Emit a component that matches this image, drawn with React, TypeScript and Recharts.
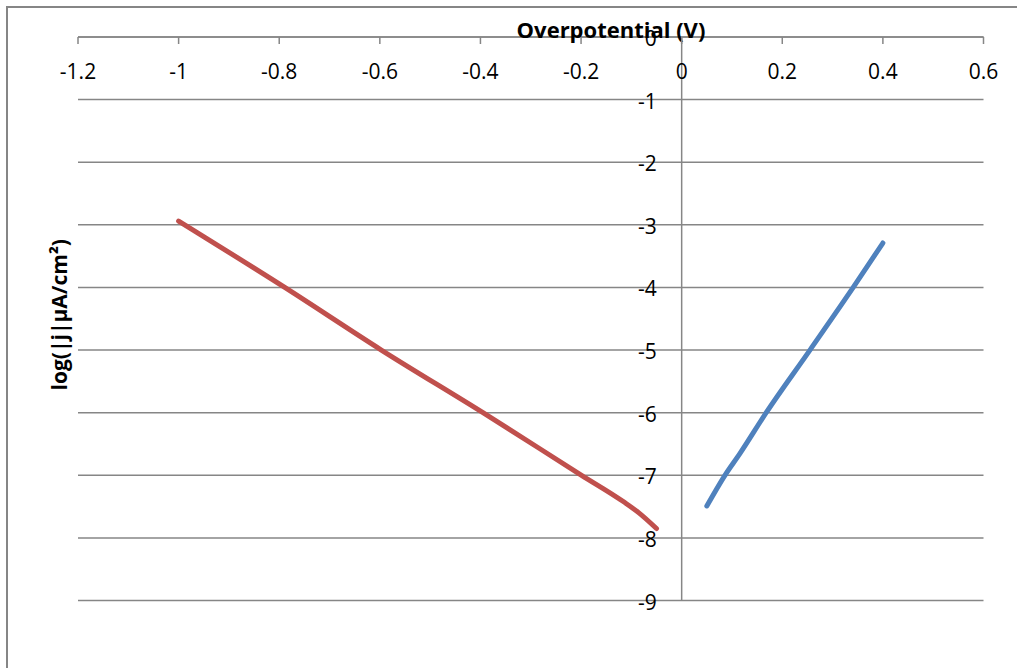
import { CartesianGrid, Label, Line, LineChart, ReferenceLine, XAxis, YAxis } from 'recharts'

// overpotential ticks (V) and log current density ticks
const xTicks = [-1.2, -1, -0.8, -0.6, -0.4, -0.2, 0, 0.2, 0.4, 0.6]
const yTicks = [0, -1, -2, -3, -4, -5, -6, -7, -8, -9]

// cathodic branch (red)
const cathodicEta = [-1, -0.789, -0.597, -0.395, -0.199, -0.116, -0.085, -0.05]
const cathodicLogJ = [-2.94, -4, -5, -6, -7, -7.42, -7.6, -7.85]

// anodic branch (blue)
const anodicEta = [0.05, 0.086, 0.116, 0.168, 0.255, 0.341, 0.4]
const anodicLogJ = [-7.49, -7, -6.65, -6, -5, -4, -3.29]

const cathodic = cathodicEta.map((x, i) => ({ x, y: cathodicLogJ[i] }))
const anodic = anodicEta.map((x, i) => ({ x, y: anodicLogJ[i] }))

const W = 1009
const H = 660
const margin = { top: 0, right: 33.5, bottom: 67.5, left: 10 }
const yAxisWidth = 60
const xAxisHeight = 29
const xMin = -1.2
const xMax = 0.6
const plotLeft = margin.left + yAxisWidth
const plotWidth = W - plotLeft - margin.right
const zeroX = plotLeft + ((0 - xMin) / (xMax - xMin)) * plotWidth

const grey = '#868686'
const font = '"Open Sans", "Liberation Sans", sans-serif'

const XTick = ({ x, y, payload }: any) => (
  <g>
    <line x1={x} x2={x} y1={y} y2={y + 7} stroke={grey} strokeWidth={1.5} />
    <text x={x} y={y + 42} textAnchor="middle" fontSize={21} fill="#000" fontFamily={font}>{payload.value}</text>
  </g>
)

const YTick = ({ y, payload }: any) => (
  <text x={zeroX - 25} y={y + 1} textAnchor="end" dominantBaseline="central" fontSize={21} fill="#000" fontFamily={font}>{payload.value}</text>
)

export default function App() {
  return <div style={{ position: 'absolute', left: 6, top: 6, width: 1011, height: 662, borderLeft: `2px solid ${grey}`, borderTop: `2px solid ${grey}`, boxSizing: 'border-box', background: '#fff' }}>
    <LineChart width={W} height={H} margin={margin}>
      <CartesianGrid vertical={false} stroke={grey} strokeWidth={1.5} />
      <XAxis type="number" dataKey="x" orientation="top" domain={[xMin, xMax]} ticks={xTicks} height={xAxisHeight} allowDataOverflow
        axisLine={{ stroke: grey, strokeWidth: 1.5 }} tickLine={false} tickSize={0} tickMargin={0} tick={<XTick />} interval={0}>
        <Label content={({ viewBox }: any) => <text x={603} y={viewBox.y + viewBox.height + 1} textAnchor="middle" fontSize={22} fontWeight="bold" fill="#000" fontFamily={font}>Overpotential (V)</text>} />
      </XAxis>
      <YAxis type="number" domain={[-9, 0]} ticks={yTicks} width={yAxisWidth} axisLine={false} tickLine={false} tick={<YTick />} interval={0}>
        <Label content={({ viewBox }: any) => {
          const cx = viewBox.x + 41
          const cy = viewBox.y + viewBox.height / 2 - 4
          return <text x={cx} y={cy} transform={`rotate(-90 ${cx} ${cy})`} textAnchor="middle" dominantBaseline="central" fontSize={21} fontWeight="bold" fill="#000" fontFamily={font}>log(|j|μA/cm²)</text>
        }} />
      </YAxis>
      <ReferenceLine x={0} stroke={grey} strokeWidth={1.5} />
      <Line data={cathodic} dataKey="y" type="monotone" stroke="#C0504D" strokeWidth={5} strokeLinecap="round" dot={false} isAnimationActive={false} />
      <Line data={anodic} dataKey="y" type="monotone" stroke="#4F81BD" strokeWidth={5} strokeLinecap="round" dot={false} isAnimationActive={false} />
    </LineChart>
  </div>
}
